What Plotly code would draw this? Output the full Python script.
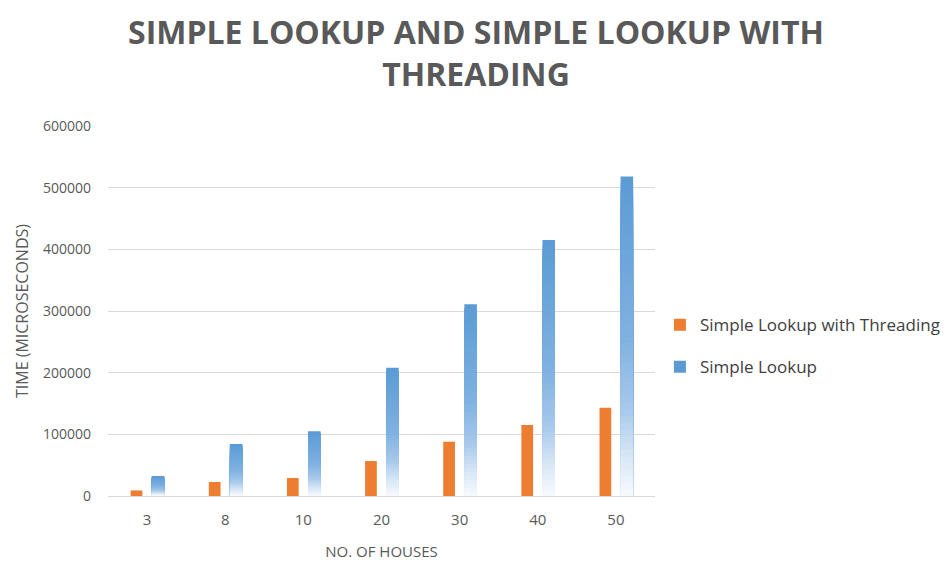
import plotly.graph_objects as go

# Number of houses (category labels) and measured times in microseconds
houses = ["3", "8", "10", "20", "30", "40", "50"]
threaded_times = [9000, 22700, 29200, 56700, 88000, 115000, 143000]
simple_times = [32400, 84300, 105000, 208000, 311000, 415000, 518000]

series_threaded = "Simple Lookup with Threading"
series_simple = "Simple Lookup"

ORANGE = "#ED7D31"
TEXT_GRAY = "#595959"
GRID_GRAY = "#D9D9D9"

# Gradient stops for the blue bars: (fraction measured from the top of the bar, rgb)
gradient_stops = [
    (0.00, (91, 155, 213)),
    (0.50, (128, 178, 225)),
    (0.72, (168, 201, 235)),
    (0.86, (214, 230, 246)),
    (1.00, (250, 252, 255)),
]


def gradient_color(s):
    for (s0, c0), (s1, c1) in zip(gradient_stops[:-1], gradient_stops[1:]):
        if s <= s1:
            f = (s - s0) / (s1 - s0) if s1 > s0 else 0
            r, g, b = (round(a + (b_ - a) * f) for a, b_ in zip(c0, c1))
            return f"rgb({r},{g},{b})"
    r, g, b = gradient_stops[-1][1]
    return f"rgb({r},{g},{b})"


fig = go.Figure()

fig.add_trace(go.Bar(
    x=houses, y=threaded_times, name=series_threaded,
    marker=dict(color=ORANGE, line=dict(width=0)),
    width=0.15, offset=-0.21,
    legendgroup="threaded", legendrank=1,
))

# Blue bars fade from solid blue at the top to white at the base:
# draw progressively shorter, lighter bars on top of each other.
levels = 48
for k in range(levels):
    frac = (levels - k) / levels
    fig.add_trace(go.Bar(
        x=houses, y=[v * frac for v in simple_times], name=series_simple,
        marker=dict(color=gradient_color(1 - frac), line=dict(width=0)),
        width=0.16, offset=0.06,
        legendgroup="simple", legendrank=2,
        showlegend=(k == 0), hoverinfo="skip" if k else None,
    ))

fig.update_layout(
    width=952, height=564,
    barmode="overlay",
    paper_bgcolor="white", plot_bgcolor="white",
    margin=dict(l=108, r=297, t=126, b=68, autoexpand=False),
    title=dict(
        text="SIMPLE LOOKUP AND SIMPLE LOOKUP WITH<br>THREADING",
        x=0.5, xref="container", xanchor="center",
        y=0.922, yref="container", yanchor="middle",
        font=dict(family="Open Sans", size=32, color=TEXT_GRAY, weight="bold"),
    ),
    font=dict(family="Open Sans", color=TEXT_GRAY),
    legend=dict(
        x=1.009, xanchor="left", y=0.405, yanchor="middle",
        font=dict(family="Open Sans", size=17, color="#404040"),
        traceorder="grouped", tracegroupgap=17,
        itemsizing="constant",
    ),
    showlegend=True,
)

fig.update_xaxes(
    type="category", automargin=False,
    showgrid=False, showline=False, ticks="",
    tickfont=dict(size=15, color=TEXT_GRAY),
    ticklabelstandoff=13,
    title=dict(text="NO. OF HOUSES", font=dict(size=15, color=TEXT_GRAY), standoff=18),
)
fig.update_yaxes(
    range=[0, 600000], dtick=100000, tickformat="d", automargin=False,
    showgrid=True, gridcolor=GRID_GRAY, gridwidth=1,
    zeroline=True, zerolinecolor=GRID_GRAY, zerolinewidth=1,
    showline=False, ticks="",
    tickfont=dict(size=14, color=TEXT_GRAY),
    ticklabelstandoff=16,
    title=dict(text="TIME (MICROSECONDS)", font=dict(size=16, color=TEXT_GRAY), standoff=10),
)

fig.write_html("out.html")
